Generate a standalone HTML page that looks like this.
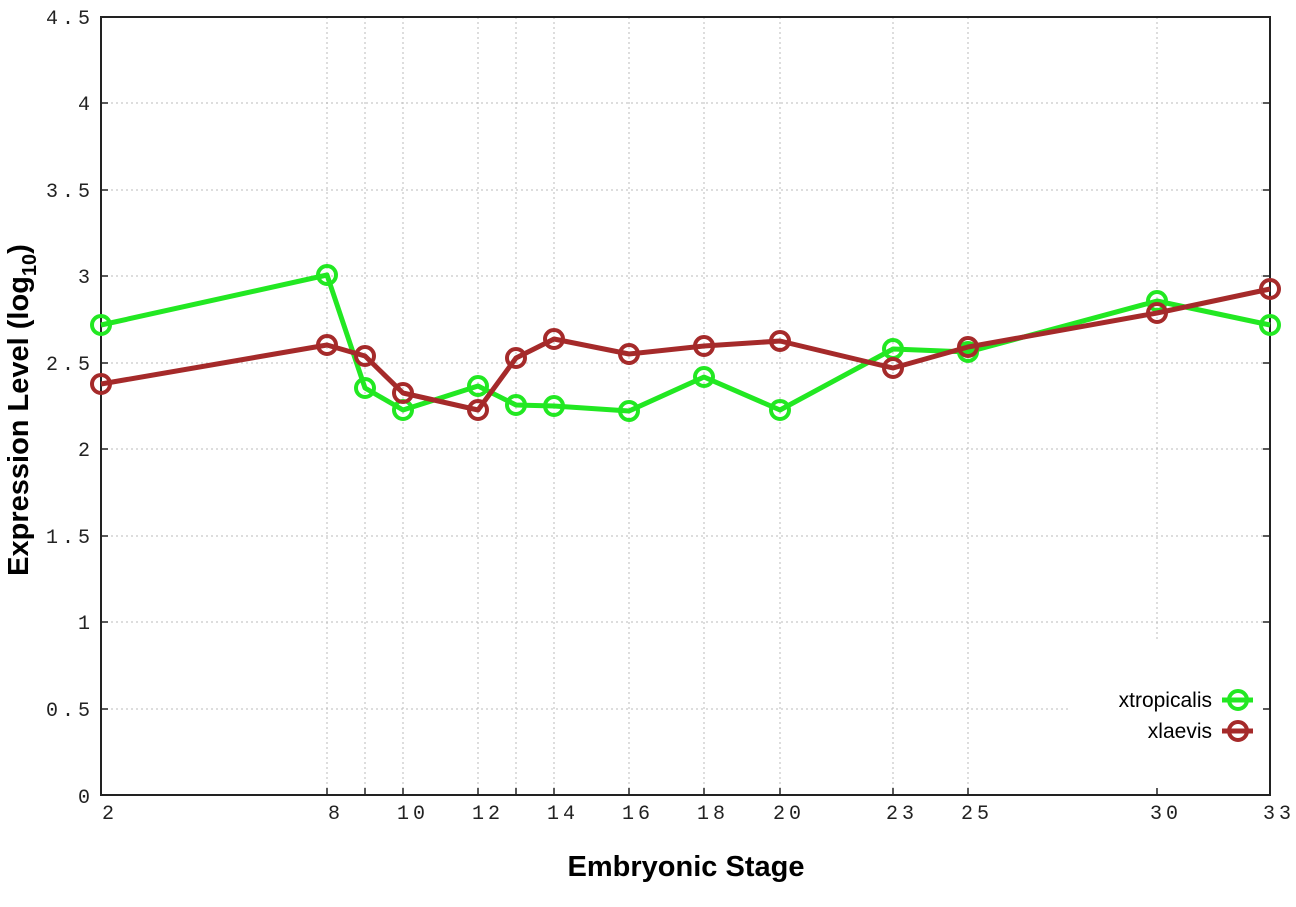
<!DOCTYPE html>
<html><head><meta charset="utf-8"><style>body{margin:0;background:#fff}svg{display:block}</style></head><body>
<svg width="1296" height="907" viewBox="0 0 1296 907" xmlns="http://www.w3.org/2000/svg">
<rect width="1296" height="907" fill="#fff"/>
<g stroke="#bbb" stroke-width="1" stroke-dasharray="2,3">
<line x1="101" y1="709" x2="1070" y2="709"/>
<line x1="101" y1="622" x2="1270" y2="622"/>
<line x1="101" y1="536" x2="1270" y2="536"/>
<line x1="101" y1="449" x2="1270" y2="449"/>
<line x1="101" y1="363" x2="1270" y2="363"/>
<line x1="101" y1="276" x2="1270" y2="276"/>
<line x1="101" y1="190" x2="1270" y2="190"/>
<line x1="101" y1="103" x2="1270" y2="103"/>
<line x1="327" y1="17" x2="327" y2="795"/>
<line x1="365" y1="17" x2="365" y2="795"/>
<line x1="403" y1="17" x2="403" y2="795"/>
<line x1="478" y1="17" x2="478" y2="795"/>
<line x1="516" y1="17" x2="516" y2="795"/>
<line x1="554" y1="17" x2="554" y2="795"/>
<line x1="629" y1="17" x2="629" y2="795"/>
<line x1="704" y1="17" x2="704" y2="795"/>
<line x1="780" y1="17" x2="780" y2="795"/>
<line x1="893" y1="17" x2="893" y2="795"/>
<line x1="968" y1="17" x2="968" y2="795"/>
<line x1="1157" y1="17" x2="1157" y2="640"/>
</g>
<rect x="101" y="17" width="1169" height="778" fill="none" stroke="#222" stroke-width="2"/>
<g stroke="#222" stroke-width="1.5">
<line x1="101" y1="709" x2="108" y2="709"/><line x1="1263" y1="709" x2="1270" y2="709"/>
<line x1="101" y1="622" x2="108" y2="622"/><line x1="1263" y1="622" x2="1270" y2="622"/>
<line x1="101" y1="536" x2="108" y2="536"/><line x1="1263" y1="536" x2="1270" y2="536"/>
<line x1="101" y1="449" x2="108" y2="449"/><line x1="1263" y1="449" x2="1270" y2="449"/>
<line x1="101" y1="363" x2="108" y2="363"/><line x1="1263" y1="363" x2="1270" y2="363"/>
<line x1="101" y1="276" x2="108" y2="276"/><line x1="1263" y1="276" x2="1270" y2="276"/>
<line x1="101" y1="190" x2="108" y2="190"/><line x1="1263" y1="190" x2="1270" y2="190"/>
<line x1="101" y1="103" x2="108" y2="103"/><line x1="1263" y1="103" x2="1270" y2="103"/>
<line x1="327" y1="788" x2="327" y2="795"/><line x1="365" y1="788" x2="365" y2="795"/>
<line x1="403" y1="788" x2="403" y2="795"/><line x1="478" y1="788" x2="478" y2="795"/>
<line x1="516" y1="788" x2="516" y2="795"/><line x1="554" y1="788" x2="554" y2="795"/>
<line x1="629" y1="788" x2="629" y2="795"/><line x1="704" y1="788" x2="704" y2="795"/>
<line x1="780" y1="788" x2="780" y2="795"/><line x1="893" y1="788" x2="893" y2="795"/>
<line x1="968" y1="788" x2="968" y2="795"/><line x1="1157" y1="788" x2="1157" y2="795"/>
</g>
<g font-family="Liberation Mono, monospace" font-size="20" fill="#222" text-anchor="end" letter-spacing="4">
<text x="94" y="803">0</text><text x="94" y="716">0.5</text><text x="94" y="629">1</text>
<text x="94" y="543">1.5</text><text x="94" y="456">2</text><text x="94" y="370">2.5</text>
<text x="94" y="283">3</text><text x="94" y="197">3.5</text><text x="94" y="110">4</text>
<text x="94" y="24">4.5</text>
</g>
<g font-family="Liberation Mono, monospace" font-size="20" fill="#222" text-anchor="middle" letter-spacing="4">
<text x="110" y="819">2</text><text x="336" y="819">8</text>
<text x="413" y="819">10</text><text x="488" y="819">12</text>
<text x="563" y="819">14</text><text x="638" y="819">16</text><text x="713" y="819">18</text>
<text x="789" y="819">20</text><text x="902" y="819">23</text><text x="977" y="819">25</text>
<text x="1166" y="819">30</text><text x="1279" y="819">33</text>
</g>
<text x="686" y="876" font-family="Liberation Sans, sans-serif" font-weight="bold" font-size="29" text-anchor="middle" fill="#000">Embryonic Stage</text>
<text transform="translate(28,410) rotate(-90)" font-family="Liberation Sans, sans-serif" font-weight="bold" font-size="29" text-anchor="middle" fill="#000">Expression Level (log<tspan font-size="20" dy="8">10</tspan><tspan dy="-8">)</tspan></text>
<g fill="none" stroke="#22e822" stroke-width="5" stroke-linejoin="round">
<polyline points="101,325 327,275 365,388 403,410 478,386 516,405 554,406 629,411 704,377 780,410 893,349 968,352 1157,301 1270,325"/>
</g>
<g fill="none" stroke="#22e822" stroke-width="4">
<circle cx="101" cy="325" r="9"/><circle cx="327" cy="275" r="9"/><circle cx="365" cy="388" r="9"/>
<circle cx="403" cy="410" r="9"/><circle cx="478" cy="386" r="9"/><circle cx="516" cy="405" r="9"/>
<circle cx="554" cy="406" r="9"/><circle cx="629" cy="411" r="9"/><circle cx="704" cy="377" r="9"/>
<circle cx="780" cy="410" r="9"/><circle cx="893" cy="349" r="9"/><circle cx="968" cy="352" r="9"/>
<circle cx="1157" cy="301" r="9"/><circle cx="1270" cy="325" r="9"/>
</g>
<g fill="none" stroke="#a52a2a" stroke-width="5" stroke-linejoin="round">
<polyline points="101,384 327,345 365,356 403,393 478,410 516,358 554,339 629,354 704,346 780,341 893,368 968,347 1157,313 1270,289"/>
</g>
<g fill="none" stroke="#a52a2a" stroke-width="4">
<circle cx="101" cy="384" r="9"/><circle cx="327" cy="345" r="9"/><circle cx="365" cy="356" r="9"/>
<circle cx="403" cy="393" r="9"/><circle cx="478" cy="410" r="9"/><circle cx="516" cy="358" r="9"/>
<circle cx="554" cy="339" r="9"/><circle cx="629" cy="354" r="9"/><circle cx="704" cy="346" r="9"/>
<circle cx="780" cy="341" r="9"/><circle cx="893" cy="368" r="9"/><circle cx="968" cy="347" r="9"/>
<circle cx="1157" cy="313" r="9"/><circle cx="1270" cy="289" r="9"/>
</g>
<g font-family="Liberation Sans, sans-serif" font-size="21" fill="#000" text-anchor="end">
<text x="1212" y="707">xtropicalis</text><text x="1212" y="738">xlaevis</text>
</g>
<line x1="1222" y1="700" x2="1253" y2="700" stroke="#22e822" stroke-width="5"/>
<circle cx="1238" cy="700" r="9" fill="none" stroke="#22e822" stroke-width="4"/>
<line x1="1222" y1="731" x2="1253" y2="731" stroke="#a52a2a" stroke-width="5"/>
<circle cx="1238" cy="731" r="9" fill="none" stroke="#a52a2a" stroke-width="4"/>
</svg>
</body></html>
